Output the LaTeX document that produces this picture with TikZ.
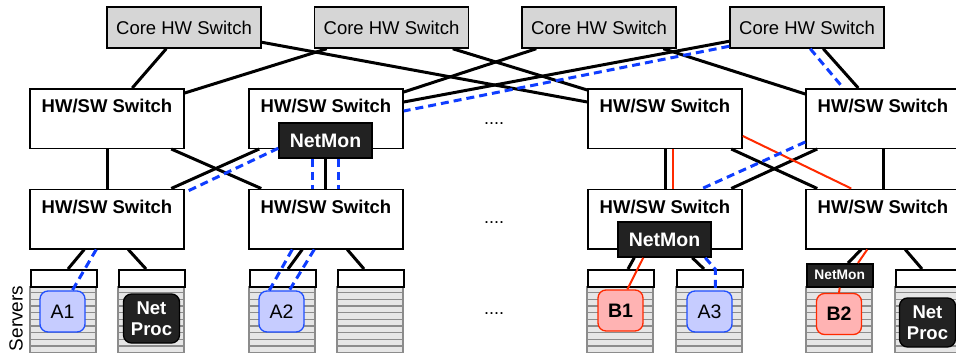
\documentclass[tikz,border=0pt]{standalone}
\usepackage{fontspec}
\setmainfont{Liberation Sans}
\usetikzlibrary{calc}

\definecolor{coregray}{HTML}{D6D6D6}
\definecolor{monblack}{HTML}{222222}
\definecolor{linkblue}{HTML}{0F3DFF}
\definecolor{appblue}{HTML}{C6CCFF}
\definecolor{appblueedge}{HTML}{1F4FFF}
\definecolor{linkred}{HTML}{FF2A00}
\definecolor{appred}{HTML}{FFB3B3}
\definecolor{rackgray}{HTML}{E6E6E6}
\definecolor{slotline}{HTML}{8C8C8C}

\tikzset{
  corebox/.style={draw, line width=1.5pt, fill=coregray, minimum width=154pt,
    minimum height=41pt, inner sep=0pt, font=\fontsize{18.5}{22}\selectfont},
  swlabel/.style={anchor=north, inner sep=0pt, yshift=-11pt,
    font=\fontsize{18.5}{22}\selectfont\bfseries},
  swbox/.style={draw, line width=1.5pt, fill=white, minimum width=154pt,
    minimum height=59.5pt, inner sep=0pt, label={[swlabel]north:HW/SW Switch}},
  netmon/.style={draw, line width=1.5pt, fill=monblack, text=white,
    minimum width=93pt, minimum height=35pt, inner sep=0pt,
    font=\fontsize{19.5}{22}\selectfont\bfseries},
  rackhead/.style={draw, line width=1.5pt, fill=white, minimum width=66pt,
    minimum height=17pt, inner sep=0pt, anchor=north west},
  apptask/.style={draw=appblueedge, line width=1.3pt, fill=appblue,
    rounded corners=8pt, minimum width=45pt, minimum height=41pt, inner sep=0pt,
    font=\fontsize{19.5}{22}\selectfont},
  bgtask/.style={draw=linkred, line width=1.3pt, fill=appred,
    rounded corners=8pt, minimum width=45pt, minimum height=41pt, inner sep=0pt,
    font=\fontsize{19.5}{22}\selectfont\bfseries},
  netproc/.style={draw, line width=1.3pt, fill=monblack, text=white,
    rounded corners=8pt, minimum width=56pt, minimum height=49pt, inner sep=0pt,
    align=center, font=\fontsize{18.5}{21.5}\selectfont\bfseries},
  wire/.style={line width=3pt, black},
  bwire/.style={line width=3pt, linkblue, dash pattern=on 8pt off 5pt},
  rwire/.style={line width=2pt, linkred},
  dots/.style={anchor=base, inner sep=0pt, font=\fontsize{18}{20}\selectfont},
}

\begin{document}
\begin{tikzpicture}[x=1pt, y=-1pt]
\useasboundingbox (0,0) rectangle (956,356);

% core layer
\node[corebox] (c1) at (184,27.5)   {Core HW Switch};
\node[corebox] (c2) at (391.5,27.5) {Core HW Switch};
\node[corebox] (c3) at (599,27.5)   {Core HW Switch};
\node[corebox] (c4) at (807,27.5)   {Core HW Switch};

% aggregation layer
\node[swbox] (a1) at (107,118.5) {};
\node[swbox] (a2) at (326,118.5) {};
\node[swbox] (a3) at (665,118.5) {};
\node[swbox] (a4) at (883,118.5) {};
\node[netmon] (nm1) at (325.5,140.5) {NetMon};

% edge layer
\node[swbox] (e1) at (107,219) {};
\node[swbox] (e2) at (326,219) {};
\node[swbox] (e3) at (665,219) {};
\node[swbox] (e4) at (883,219) {};
\node[netmon] (nm2) at (664.5,239.5) {NetMon};

% server racks: striped slots below a header
\foreach \x in {30,118,249,337,587,676,806,895}{
  \fill[rackgray] (\x,286) rectangle ++(66,66.7);
  \foreach \k in {0,...,10}
    \draw[slotline, line width=1.3pt] (\x,286+\k*6.67) -- ++(66,0);
  \draw[slotline, line width=1.3pt] (\x,286) -- ++(0,66.7) (\x+66,286) -- ++(0,66.7);
}
\node[rackhead] (r1) at (30,269) {};
\node[rackhead] (r2) at (118,269) {};
\node[rackhead] (r3) at (249,269) {};
\node[rackhead] (r4) at (337,269) {};
\node[rackhead] (r5) at (587,269) {};
\node[rackhead] (r6) at (676,269) {};
\node[rackhead, fill=monblack, minimum height=23pt, text=white,
  font=\fontsize{13.8}{16}\selectfont\bfseries] (r7) at (806,263) {NetMon};
\node[rackhead] (r8) at (895,269) {};

% tasks on the servers
\node[apptask] (A1) at (62.5,311.5)  {A1};
\node[netproc] (P1) at (151.5,318.5) {Net\\Proc};
\node[apptask] (A2) at (281.5,311.5) {A2};
\node[bgtask]  (B1) at (620.5,310.5) {B1};
\node[apptask] (A3) at (709.5,311.5) {A3};
\node[bgtask]  (B2) at (839,314)     {B2};
\node[netproc] (P2) at (927.5,322.5) {Net\\Proc};

\node[rotate=90, inner sep=0pt, font=\fontsize{19}{22}\selectfont] (srv) at (16,318.5) {Servers};

\node[dots] (d1) at (494,124.5) {....};
\node[dots] (d2) at (494,223.5) {....};
\node[dots] (d3) at (494,314.5) {....};

% core to aggregation links
\draw[wire] ($(c1.south west)+(60,0)$) -- ($(a1.north west)+(103,0)$);
\draw[wire] ($(c1.north east)+(0,36)$) -- ($(a3.north west)+(0,14)$);
\draw[wire] ($(c2.south west)+(13,0)$) -- ($(a1.north east)+(0,5)$);
\draw[wire] ($(c2.south west)+(139,0)$) -- ($(a3.north west)+(0,2)$);
\draw[wire] ($(c3.south west)+(15,0)$) -- ($(a2.north east)+(0,4)$);
\draw[wire] ($(c3.south west)+(142,0)$) -- ($(a4.north west)+(0,6)$);
\draw[wire] ($(c4.north west)+(0,35)$) -- ($(a2.north east)+(0,14)$);
\draw[wire] ($(c4.south west)+(94,0)$) -- ($(a4.north west)+(53,0)$);
\draw[bwire] ($(c4.north west)+(0,40)$) -- ($(a2.north east)+(0,23)$);
\draw[bwire] ($(c4.south west)+(81,0)$) -- ($(a4.north west)+(38,0)$);

% aggregation to edge links
\draw[wire] (a1.south) -- (e1.north);
\draw[wire] ($(a1.south west)+(142,0)$) -- ($(e2.north west)+(13,0)$);
\draw[wire] ($(a2.south west)+(11,0)$) -- ($(e1.north west)+(142,0)$);
\draw[wire] (nm1.south) -- (nm1.south |- e2.north);
\draw[bwire] ($(nm1.north west)+(0,26)$) -- ($(e1.north east)+(0,4)$);
\draw[bwire] ($(nm1.south west)+(34,0)$) -- ($(e2.north west)+(64,0)$);
\draw[bwire] ($(nm1.south west)+(60,0)$) -- ($(e2.north west)+(90,0)$);
\draw[wire] (a3.south) -- (e3.north);
\draw[rwire] ($(a3.south)+(8,0)$) -- ($(e3.north)+(8,0)$);
\draw[wire] ($(a3.south west)+(144,0)$) -- ($(e4.north west)+(12,0)$);
\draw[wire] ($(a4.south west)+(12,0)$) -- ($(e3.north west)+(144,0)$);
\draw[rwire] ($(a3.north east)+(0,48)$) -- ($(e4.north west)+(46,0)$);
\draw[bwire] ($(a4.north west)+(0,54)$) -- ($(e3.north west)+(115,0)$);
\draw[wire] (a4.south) -- (e4.north);

% edge to server links
\draw[wire] ($(e1.south west)+(55,0)$) -- ($(r1.north west)+(38,0)$);
\draw[bwire] ($(e1.south west)+(67,0)$) -- ($(A1.north west)+(33,0)$);
\draw[wire] ($(e1.south west)+(99,0)$) -- ($(r2.north west)+(28,0)$);
\draw[wire] ($(e2.south west)+(54,0)$) -- ($(r3.north west)+(39,0)$);
\draw[bwire] ($(e2.south west)+(44,0)$) -- ($(A2.north west)+(11,0)$);
\draw[bwire] ($(e2.south west)+(66,0)$) -- ($(A2.north west)+(31,0)$);
\draw[wire] ($(e2.south west)+(99,0)$) -- ($(r4.north west)+(27,0)$);
\draw[wire] ($(nm2.south west)+(17,0)$) -- ($(r5.north west)+(41,0)$);
\draw[rwire] ($(nm2.south west)+(26,0)$) -- ($(B1.north west)+(30,0)$);
\draw[wire] ($(nm2.south west)+(75,0)$) -- ($(r6.north west)+(28,0)$);
\draw[bwire] ($(nm2.south west)+(88,0)$) -- ($(A3.north west)+(29,-21)$) -- ($(A3.north west)+(29,0)$);
\draw[wire] ($(e4.south west)+(56,0)$) -- ($(r7.north west)+(42,0)$);
\draw[rwire] ($(e4.south west)+(62,0)$) -- ($(r7.north west)+(52,0)$);
\draw[rwire] (r7.south) -- (B2.north);
\draw[wire] ($(e4.south west)+(100,0)$) -- ($(r8.north west)+(27,0)$);
\end{tikzpicture}
\end{document}
